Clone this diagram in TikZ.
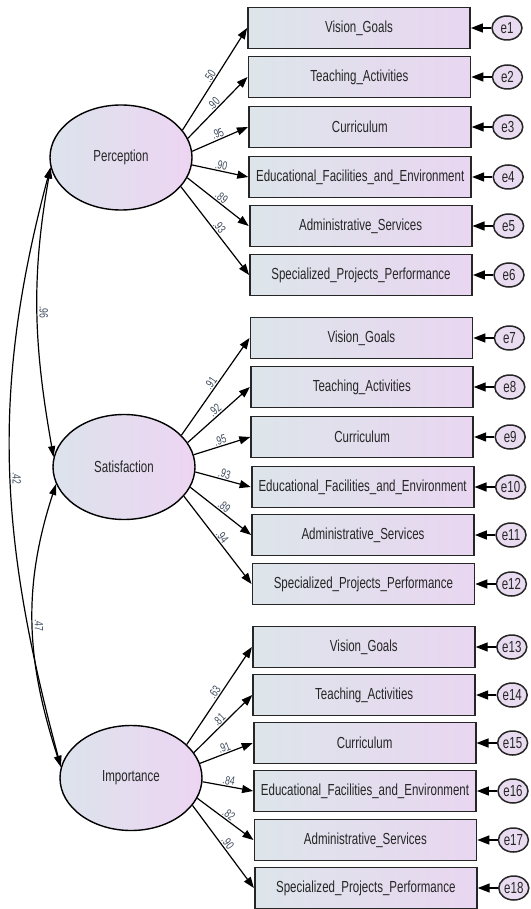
\documentclass[tikz,border=0pt]{standalone}
\usepackage{fontspec}
\setmainfont{Liberation Sans}[FakeStretch=0.72]
\usetikzlibrary{arrows.meta,shapes.geometric}
\definecolor{boxleft}{HTML}{DDE5EA}
\definecolor{boxright}{HTML}{E9D6F1}
\definecolor{latleft}{HTML}{DCE3EC}
\definecolor{latright}{HTML}{EDD5F2}
\definecolor{errfill}{HTML}{E9DCF1}
\definecolor{textcol}{HTML}{262626}
\definecolor{numcol}{HTML}{3D4A5C}
\tikzset{
  obs/.style={draw=textcol,line width=1.8pt,left color=boxleft,right color=boxright,
    minimum width=222pt,minimum height=41pt,inner sep=0pt,text=textcol,
    font=\fontsize{16}{18}\selectfont},
  lat/.style={ellipse,draw=black,line width=1.4pt,left color=latleft,right color=latright,
    minimum width=142pt,minimum height=105pt,inner sep=0pt,text=textcol,
    font=\fontsize{16}{18}\selectfont},
  err/.style={ellipse,draw=textcol,line width=1.5pt,fill=errfill,
    minimum width=30pt,minimum height=24pt,inner sep=0pt,text=textcol,
    font=\fontsize{16}{18}\selectfont},
  load/.style={-{Triangle[length=11pt,width=8pt]},line width=1.2pt},
  errarr/.style={-{Triangle[length=12pt,width=9pt]},line width=1.4pt},
  cov/.style={{Triangle[length=11pt,width=7pt]}-{Triangle[length=11pt,width=7pt]},line width=1.2pt},
  coef/.style={sloped,above,inner sep=1pt,text=numcol,font=\fontsize{12}{13}\selectfont},
  covlab/.style={rotate=-90,above,inner sep=1.5pt,text=numcol,font=\fontsize{12}{13}\selectfont}
}
\begin{document}
\begin{tikzpicture}[x=1pt,y=1pt]
\useasboundingbox (0,0) rectangle (530,-909);

% latent variables
\node[lat] (P) at (121,-157.5) {Perception};
\node[lat] (S) at (124,-467) {Satisfaction};
\node[lat] (I) at (131,-778) {Importance};

\begin{scope}[every node/.style={obs}]
\node (B1) at (359.0,-28) {Vision\_Goals};
\node (B2) at (359.4,-77) {Teaching\_Activities};
\node (B3) at (359.8,-127) {Curriculum};
\node (B4) at (360.2,-177) {Educational\_Facilities\_and\_Environment};
\node (B5) at (360.6,-226) {Administrative\_Services};
\node (B6) at (361.0,-275) {Specialized\_Projects\_Performance};
\node (B7) at (361.4,-338) {Vision\_Goals};
\node (B8) at (361.8,-387) {Teaching\_Activities};
\node (B9) at (362.2,-437) {Curriculum};
\node (B10) at (362.6,-487) {Educational\_Facilities\_and\_Environment};
\node (B11) at (363.0,-535) {Administrative\_Services};
\node (B12) at (363.4,-584) {Specialized\_Projects\_Performance};
\node (B13) at (363.8,-647) {Vision\_Goals};
\node (B14) at (364.2,-695) {Teaching\_Activities};
\node (B15) at (364.6,-743) {Curriculum};
\node (B16) at (365.0,-791) {Educational\_Facilities\_and\_Environment};
\node (B17) at (365.4,-840) {Administrative\_Services};
\node (B18) at (365.8,-888) {Specialized\_Projects\_Performance};
\end{scope}

\begin{scope}[every node/.style={err}]
\node (E1) at (507.0,-28) {e1};
\node (E2) at (507.4,-77) {e2};
\node (E3) at (507.8,-127) {e3};
\node (E4) at (508.2,-177) {e4};
\node (E5) at (508.6,-226) {e5};
\node (E6) at (509.0,-275) {e6};
\node (E7) at (509.4,-338) {e7};
\node (E8) at (509.8,-387) {e8};
\node (E9) at (510.2,-437) {e9};
\node (E10) at (510.6,-487) {e10};
\node (E11) at (511.0,-535) {e11};
\node (E12) at (511.4,-584) {e12};
\node (E13) at (511.8,-647) {e13};
\node (E14) at (512.2,-695) {e14};
\node (E15) at (512.6,-743) {e15};
\node (E16) at (513.0,-791) {e16};
\node (E17) at (513.4,-840) {e17};
\node (E18) at (513.8,-888) {e18};
\end{scope}

% loadings
\path (P.24) edge[load] node[coef] {.50} (B1.west);
\path (P.16) edge[load] node[coef] {.90} (B2.west);
\path (P.5) edge[load] node[coef] {.95} (B3.west);
\path (P.-6) edge[load] node[coef] {.90} (B4.west);
\path (P.-17) edge[load] node[coef] {.89} (B5.west);
\path (P.-26) edge[load] node[coef] {.93} (B6.west);
\path (S.29) edge[load] node[coef] {.91} (B7.west);
\path (S.21) edge[load] node[coef] {.92} (B8.west);
\path (S.10) edge[load] node[coef] {.95} (B9.west);
\path (S.-4) edge[load] node[coef] {.93} (B10.west);
\path (S.-17) edge[load] node[coef] {.89} (B11.west);
\path (S.-26) edge[load] node[coef] {.94} (B12.west);
\path (I.31) edge[load] node[coef] {.63} (B13.west);
\path (I.22) edge[load] node[coef] {.81} (B14.west);
\path (I.12) edge[load] node[coef] {.91} (B15.west);
\path (I.-3) edge[load] node[coef] {.84} (B16.west);
\path (I.-17) edge[load] node[coef] {.82} (B17.west);
\path (I.-24) edge[load] node[coef] {.90} (B18.west);

% errors
\path (E1) edge[errarr] (B1.east);
\path (E2) edge[errarr] (B2.east);
\path (E3) edge[errarr] (B3.east);
\path (E4) edge[errarr] (B4.east);
\path (E5) edge[errarr] (B5.east);
\path (E6) edge[errarr] (B6.east);
\path (E7) edge[errarr] (B7.east);
\path (E8) edge[errarr] (B8.east);
\path (E9) edge[errarr] (B9.east);
\path (E10) edge[errarr] (B10.east);
\path (E11) edge[errarr] (B11.east);
\path (E12) edge[errarr] (B12.east);
\path (E13) edge[errarr] (B13.east);
\path (E14) edge[errarr] (B14.east);
\path (E15) edge[errarr] (B15.east);
\path (E16) edge[errarr] (B16.east);
\path (E17) edge[errarr] (B17.east);
\path (E18) edge[errarr] (B18.east);

% covariances
\path (P.188) edge[cov,out=-100,in=100] node[covlab] {.96} (S.172);
\path (P.188) edge[cov,out=-105,in=105] node[covlab,pos=.52] {.42} (I.171);
\path (S.194) edge[cov,out=-108,in=108] node[covlab] {.47} (I.171);
\end{tikzpicture}
\end{document}
